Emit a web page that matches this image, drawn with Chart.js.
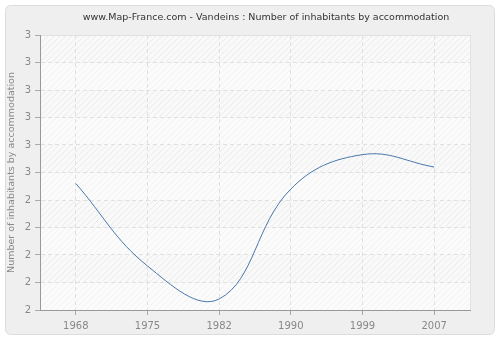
<!DOCTYPE html>
<html>
<head>
<meta charset="utf-8">
<script src="https://cdn.jsdelivr.net/npm/chart.js@4"></script>
<style>
html,body{margin:0;padding:0;background:#fff;}
#wrap{width:500px;height:340px;position:relative;}
</style>
</head>
<body>
<div id="wrap"><canvas id="c" width="500" height="340"></canvas></div>
<script>
const years = ["1968", "1975", "1982", "1990", "1999", "2007"];
const inhabitantsPerHome = [2.46, 2.16, 2.04, 2.44, 2.565, 2.52];
const yTickMin = 2;
const yTickMax = 3;
const yTickStep = 0.1;
const chartTitle = 'www.Map-France.com - Vandeins : Number of inhabitants by accommodation';
const yAxisTitle = 'Number of inhabitants by accommodation';

function makePattern(ctx, strong) {
  const p = document.createElement('canvas');
  p.width = 6; p.height = 6;
  const g = p.getContext('2d');
  g.fillStyle = strong ? '#f9f9f9' : '#fbfbfb';
  g.fillRect(0, 0, 6, 6);
  g.strokeStyle = strong ? '#ebebeb' : '#f2f2f2';
  g.lineWidth = 1;
  g.beginPath();
  g.moveTo(-1, 7); g.lineTo(7, -1);
  g.moveTo(-1, 1); g.lineTo(1, -1);
  g.moveTo(5, 7); g.lineTo(7, 5);
  g.stroke();
  return ctx.createPattern(p, 'repeat');
}

const bgPlugin = {
  id: 'bg',
  beforeDraw(chart) {
    const ctx = chart.ctx;
    ctx.save();
    ctx.fillStyle = '#ffffff';
    ctx.fillRect(0, 0, chart.width, chart.height);
    const x = 5.5, y = 5.5, w = 489, h = 329, r = 6;
    ctx.beginPath();
    ctx.moveTo(x + r, y);
    ctx.lineTo(x + w - r, y);
    ctx.quadraticCurveTo(x + w, y, x + w, y + r);
    ctx.lineTo(x + w, y + h - r);
    ctx.quadraticCurveTo(x + w, y + h, x + w - r, y + h);
    ctx.lineTo(x + r, y + h);
    ctx.quadraticCurveTo(x, y + h, x, y + h - r);
    ctx.lineTo(x, y + r);
    ctx.quadraticCurveTo(x, y, x + r, y);
    ctx.closePath();
    ctx.fillStyle = '#efefef';
    ctx.fill();
    ctx.strokeStyle = '#dcdcdc';
    ctx.lineWidth = 1;
    ctx.stroke();
    const a = chart.chartArea;
    const ys = chart.scales.y;
    const strong = makePattern(ctx, true);
    const weak = makePattern(ctx, false);
    let i = 0;
    for (let v = yTickMax; v > yTickMin + 1e-9; v -= yTickStep) {
      const top = ys.getPixelForValue(v);
      const bot = ys.getPixelForValue(v - yTickStep);
      ctx.fillStyle = (i % 2 === 0) ? strong : weak;
      ctx.fillRect(a.left, top, a.right - a.left, bot - top);
      i++;
    }
    ctx.strokeStyle = '#e2e2e2';
    ctx.strokeRect(a.left + 0.5, a.top + 0.5, a.right - a.left, a.bottom - a.top);
    ctx.fillStyle = '#333333';
    ctx.font = '9.5px "DejaVu Sans"';
    ctx.textAlign = 'center';
    ctx.textBaseline = 'middle';
    ctx.fillText(chartTitle, 266, 18);
    ctx.restore();
  }
};

new Chart(document.getElementById('c'), {
  type: 'line',
  data: {
    labels: years,
    datasets: [{
      data: inhabitantsPerHome,
      borderColor: '#4a77aa',
      borderWidth: 1,
      pointRadius: 0,
      tension: 0.4,
      fill: false
    }]
  },
  plugins: [bgPlugin],
  options: {
    responsive: false,
    animation: false,
    layout: { padding: { left: 0, right: 30, top: 35, bottom: 0 } },
    plugins: {
      legend: { display: false },
      tooltip: { enabled: false },
      title: { display: false }
    },
    scales: {
      x: {
        type: 'category',
        offset: true,
        grid: {
          offset: false,
          color: '#e0e0e0',
          tickColor: '#aaaaaa',
          tickLength: 5
        },
        border: { display: true, color: '#999999', dash: [4, 3] },
        ticks: {
          color: '#888888',
          font: { family: 'DejaVu Sans', size: 10 },
          padding: 5,
          maxRotation: 0
        },
        afterFit(s) { s.height = 30; }
      },
      y: {
        min: yTickMin,
        max: yTickMax,
        grid: {
          color: '#e0e0e0',
          tickColor: '#aaaaaa',
          tickLength: 5
        },
        border: { display: true, color: '#999999', dash: [4, 3] },
        ticks: {
          stepSize: yTickStep,
          color: '#888888',
          font: { family: 'DejaVu Sans', size: 10 },
          padding: 4,
          callback: v => Number(v).toFixed(0)
        },
        title: {
          display: true,
          text: yAxisTitle,
          color: '#888888',
          font: { family: 'DejaVu Sans', size: 9.5 },
          padding: { top: 6, bottom: 0 }
        },
        afterFit(s) { s.width = 40; }
      }
    }
  }
});
</script>
</body>
</html>
